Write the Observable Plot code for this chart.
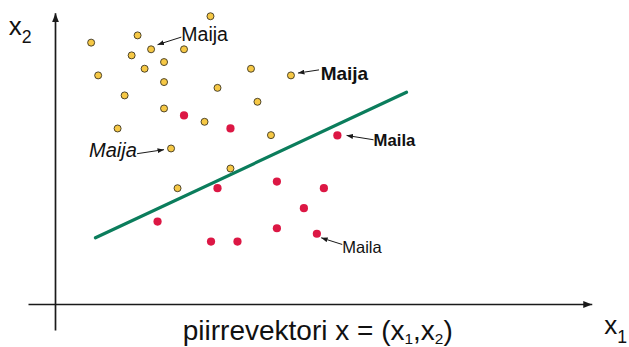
<!DOCTYPE html>
<html><head><meta charset="utf-8">
<script src="https://cdn.jsdelivr.net/npm/d3@7"></script>
<script src="https://cdn.jsdelivr.net/npm/@observablehq/plot@0.6"></script>
<style>
body{margin:0;background:#fff;}
#chart svg{display:block;}
</style>
</head><body><div id="chart"></div>
<script>
// Class "Maija" (yellow) feature vectors (x1, x2)
const maijaX = [2.87,1.52,0.66,1.77,2.38,1.41,2.01,1.65,0.79,2.01,3.62,4.36,3.00,1.28,3.74,2.01,2.76,1.15,3.99,2.14,3.24,2.26];
const maijaY = [9.94,9.28,9.03,8.80,8.80,8.59,8.36,8.13,7.90,7.67,8.13,7.90,7.47,7.21,6.99,6.76,6.30,6.07,5.84,5.38,4.69,4.01];
// Class "Maila" (red) feature vectors
const mailaX = [2.38,3.24,5.22,3.00,4.10,4.97,4.60,1.89,2.88,3.37,4.10,4.84];
const mailaY = [6.52,6.07,5.83,4.01,4.24,4.01,3.32,2.86,2.17,2.17,2.63,2.44];
// Decision boundary
const boundaryX = [0.74,6.50];
const boundaryY = [2.30,7.32];
// Coordinate axes (from -> to)
const axisFromX = [-0.5,0], axisFromY = [0,-0.9];
const axisToX = [9.94,0], axisToY = [0,10.04];
// Annotations
const annotText = ["Maija","Maija","Maija","Maila","Maila"];
const annotX = [2.33,0.62,4.91,5.89,5.31];
const annotY = [9.10,5.08,7.75,5.46,1.77];
const arrowFromX = [2.33,1.51,4.88,5.89,5.31];
const arrowFromY = [9.22,5.20,8.09,5.68,2.07];
const arrowToX = [1.89,2.01,4.49,5.39,4.92];
const arrowToY = [8.96,5.34,7.98,5.83,2.30];
// Axis labels and caption ("_" marks a subscript)
const axisLabelText = ["x_2","x_1"];
const axisLabelX = [-0.865,10.16];
const axisLabelY = [9.31,-1.034];
const captionText = ["piirrevektori x = (x_1,x_2)"];
const captionX = [2.357];
const captionY = [-1.207];

const maija = maijaX.map((x,i)=>({x, y:maijaY[i]}));
const maila = mailaX.map((x,i)=>({x, y:mailaY[i]}));
const boundary = boundaryX.map((x,i)=>({x, y:boundaryY[i]}));
const axes = axisFromX.map((x,i)=>({x1:x, y1:axisFromY[i], x2:axisToX[i], y2:axisToY[i]}));
const pointers = arrowFromX.map((x,i)=>({x1:x, y1:arrowFromY[i], x2:arrowToX[i], y2:arrowToY[i]}));
const annots = annotText.map((t,i)=>({t, x:annotX[i], y:annotY[i]}));
const axisLabels = axisLabelText.map((t,i)=>({t, x:axisLabelX[i], y:axisLabelY[i]}));
const caption = captionText.map((t,i)=>({t, x:captionX[i], y:captionY[i]}));

const FONT = "Liberation Sans, Arial, sans-serif";
const txt = (data, opts) => Plot.text(data, {x:"x", y:"y", text:"t", textAnchor:"start", lineAnchor:"bottom", fill:"#111", fontFamily:FONT, ...opts});

const marks = [
  Plot.link(axes, {x1:"x1", y1:"y1", x2:"x2", y2:"y2", stroke:"#1a1a1a", strokeWidth:1.7}),          // 0
  Plot.line(boundary, {x:"x", y:"y", stroke:"#0b7d5c", strokeWidth:3.2}),                             // 1
  Plot.dot(maila, {x:"x", y:"y", r:4.1, fill:"#dc1744", stroke:"none"}),                              // 2
  Plot.dot(maija, {x:"x", y:"y", r:3.5, fill:"#f6c845", stroke:"#3d3520", strokeWidth:0.9}),          // 3
  Plot.link(pointers, {x1:"x1", y1:"y1", x2:"x2", y2:"y2", stroke:"#1a1a1a", strokeWidth:1}),         // 4
  txt([annots[0]], {fontSize:19.5}),                                                                  // 5
  txt([annots[1]], {fontSize:20, fontStyle:"italic"}),                                                // 6
  txt([annots[2]], {fontSize:19, fontWeight:"bold"}),                                                 // 7
  txt([annots[3]], {fontSize:16.7, fontWeight:"bold"}),                                               // 8
  txt([annots[4]], {fontSize:16.5}),                                                                  // 9
  txt(axisLabels, {fontSize:26}),                                                                     // 10
  txt(caption, {fontSize:28})                                                                         // 11
];

const chart = Plot.plot({
  width: 629, height: 347,
  marginLeft: 55, marginRight: 34, marginTop: 14, marginBottom: 43,
  x: {domain:[0,10], axis:null},
  y: {domain:[0,10], axis:null},
  style: {background:"#fff", overflow:"visible"},
  marks
});
document.getElementById("chart").appendChild(chart);

const svg = d3.select(chart);
const groups = Array.from(chart.children).filter(n => n.tagName.toLowerCase() === "g");

// Filled arrowheads
const defs = svg.insert("defs", ":first-child");
function marker(id, w, h) {
  defs.append("marker").attr("id", id).attr("viewBox", "0 0 10 10")
    .attr("refX", 10).attr("refY", 5).attr("markerUnits", "userSpaceOnUse")
    .attr("markerWidth", w).attr("markerHeight", h).attr("orient", "auto")
    .attr("preserveAspectRatio", "none")
    .append("path").attr("d", "M0,0L10,5L0,10Z").attr("fill", "#1a1a1a");
}
marker("axhead", 9, 7);
marker("pthead", 6.5, 5);
d3.select(groups[0]).selectAll("path").attr("marker-end", "url(#axhead)");
d3.select(groups[4]).selectAll("path").attr("marker-end", "url(#pthead)");

// Subscripts
function subscripts(group, scale, shift) {
  d3.select(group).selectAll("text").each(function() {
    const fs = parseFloat(getComputedStyle(this).fontSize);
    const s = this.textContent;
    const el = d3.select(this);
    el.text(null);
    let down = false;
    s.split(/(_\w)/).forEach(part => {
      if (!part) return;
      if (part[0] === "_") {
        el.append("tspan").attr("font-size", (fs*scale)+"px").attr("dy", (fs*shift)+"px").text(part.slice(1));
        down = true;
      } else {
        const t = el.append("tspan").text(part);
        if (down) { t.attr("dy", (-fs*shift)+"px"); down = false; }
      }
    });
  });
}
subscripts(groups[10], 0.68, 0.34);
subscripts(groups[11], 0.55, 0.17);
</script>
</body></html>
